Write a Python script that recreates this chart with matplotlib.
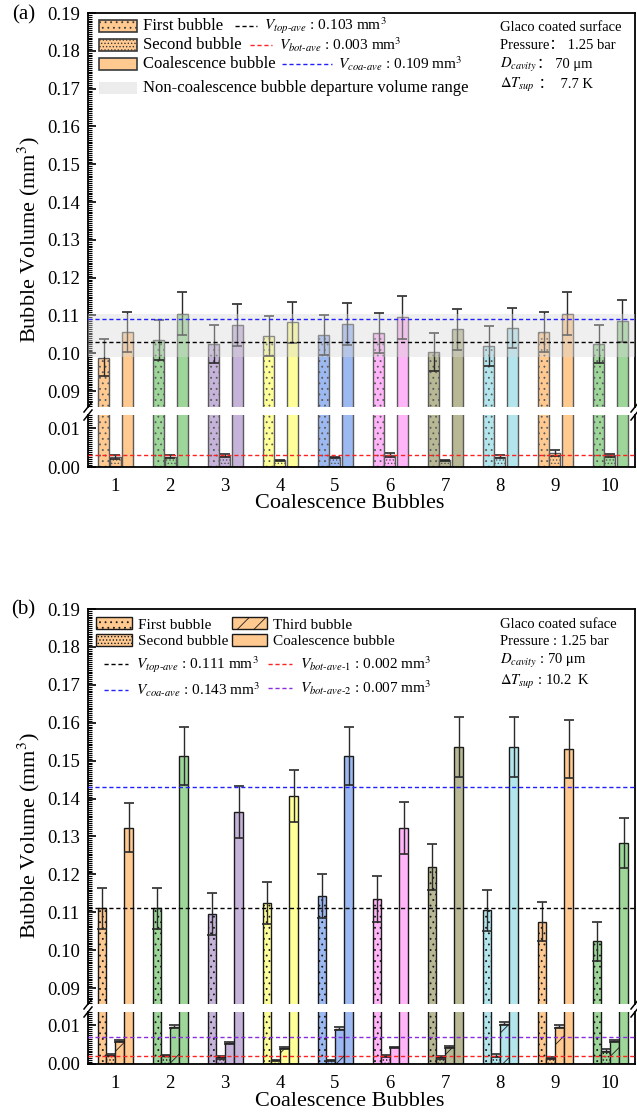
#!/usr/bin/env python3
"""Bubble volume bar charts (a) and (b) with a broken y axis."""

import numpy as np
import matplotlib
matplotlib.use('Agg')
import matplotlib.pyplot as plt
from matplotlib.patches import Patch, Rectangle
from matplotlib.lines import Line2D
from matplotlib.ticker import MultipleLocator, FormatStrFormatter

plt.rcParams['font.family'] = ['Liberation Serif', 'Noto Sans CJK SC']
plt.rcParams['mathtext.fontset'] = 'stix'
plt.rcParams['hatch.linewidth'] = 0.6

groups = np.arange(1, 11)
group_colors = ['#FFC990', '#9ED69A', '#C5B3DA', '#FFFF9A', '#9DB9F2',
                '#FFB5F7', '#B8B894', '#B3E5EC', '#FFC990', '#9ED69A']

# panel (a)
a_first = [0.0988, 0.1034, 0.1024, 0.1045, 0.1048, 0.1053, 0.1003, 0.1019, 0.1056, 0.1024]
a_first_err = [0.0049, 0.0053, 0.0050, 0.0053, 0.0052, 0.0053, 0.0050, 0.0052, 0.0052, 0.0050]
a_second = [0.0027, 0.0027, 0.0029, 0.0017, 0.0025, 0.0032, 0.0017, 0.0027, 0.0037, 0.0030]
a_second_err = [0.0005, 0.0004, 0.0004, 0.0002, 0.0002, 0.0005, 0.0002, 0.0003, 0.0008, 0.0004]
a_coa = [0.1056, 0.1105, 0.1075, 0.1082, 0.1077, 0.1095, 0.1063, 0.1066, 0.1105, 0.1085]
a_coa_err = [0.0052, 0.0056, 0.0055, 0.0055, 0.0056, 0.0056, 0.0053, 0.0053, 0.0056, 0.0055]
a_top_ave = 0.103
a_bot_ave = 0.003
a_coa_ave = 0.109
a_band = (0.099, 0.1105)

# panel (b)
b_first = [0.1110, 0.1110, 0.1095, 0.1125, 0.1143, 0.1135, 0.1220, 0.1105, 0.1075, 0.1023]
b_first_err = [0.0055, 0.0055, 0.0055, 0.0055, 0.0057, 0.0060, 0.0060, 0.0055, 0.0052, 0.0052]
b_second = [0.0024, 0.0022, 0.0017, 0.0010, 0.0010, 0.0021, 0.0017, 0.0022, 0.0016, 0.0035]
b_second_err = [0.0003, 0.0002, 0.0003, 0.0001, 0.0001, 0.0003, 0.0003, 0.0003, 0.0002, 0.0004]
b_third = [0.0059, 0.0097, 0.0054, 0.0042, 0.0092, 0.0043, 0.0044, 0.0105, 0.0097, 0.0059]
b_third_err = [0.0003, 0.0003, 0.0002, 0.0002, 0.0003, 0.0002, 0.0002, 0.0003, 0.0003, 0.0003]
b_coa = [0.1323, 0.1512, 0.1365, 0.1407, 0.1512, 0.1322, 0.1535, 0.1535, 0.1530, 0.1283]
b_coa_err = [0.0065, 0.0076, 0.0068, 0.0068, 0.0076, 0.0068, 0.0079, 0.0079, 0.0076, 0.0066]
b_top_ave = 0.111
b_coa_ave = 0.143
b_bot_ave_1 = 0.002
b_bot_ave_2 = 0.007

W, H = 637, 1118
LEFT, RIGHT = 88, 635


def fig_rect(top_px, bot_px):
    return [LEFT / W, 1 - bot_px / H, (RIGHT - LEFT) / W, (bot_px - top_px) / H]


def make_panel(fig, top_px, brk_top, brk_bot, bot_px):
    ax_t = fig.add_axes(fig_rect(top_px, brk_top))
    ax_b = fig.add_axes(fig_rect(brk_bot, bot_px))
    ax_t.set_ylim(0.0858, 0.19)
    ax_b.set_ylim(0.0, 0.0135)
    for ax in (ax_t, ax_b):
        ax.set_xlim(0.509, 10.455)
        ax.yaxis.set_minor_locator(MultipleLocator(0.0005))
        ax.yaxis.set_major_formatter(FormatStrFormatter('%.2f'))
        ax.tick_params(axis='y', which='major', direction='in', length=6,
                       width=1.2, labelsize=13.5, pad=6)
        ax.tick_params(axis='y', which='minor', direction='in', length=3, width=0.8)
        ax.tick_params(axis='x', length=0, labelsize=13.5, pad=8)
        for s in ax.spines.values():
            s.set_linewidth(1.3)
    ax_t.yaxis.set_major_locator(MultipleLocator(0.01))
    ax_b.set_yticks([0.0, 0.01])
    ax_t.spines['bottom'].set_visible(False)
    ax_b.spines['top'].set_visible(False)
    ax_t.set_xticks([])
    ax_b.set_xticks(groups)
    ax_b.set_xticklabels([str(g) for g in groups])

    # break marks
    for ax, h, y0 in ((ax_t, brk_top - top_px, 0), (ax_b, bot_px - brk_bot, 1)):
        dx = 4 / (RIGHT - LEFT)
        dy = 5 / h
        for x0 in (0, 1):
            ax.plot([x0 - dx, x0 + dx], [y0 - dy, y0 + dy], transform=ax.transAxes,
                    color='k', lw=1.1, clip_on=False, zorder=10)
    return ax_t, ax_b


def draw_bars(axes, offset, vals, errs, width, hatch, edge):
    for ax in axes:
        ax.bar(groups + offset, vals, width, color=group_colors, edgecolor=edge,
               hatch=hatch, linewidth=1.0, zorder=2)
        ax.errorbar(groups + offset, vals, yerr=errs, fmt='none', ecolor='#2a2a2a',
                    elinewidth=1.0, capsize=3.5, capthick=1.2, zorder=3)


def side_text(ax, lines, x, ys, fs):
    for (head, tail), y in zip(lines, ys):
        t = ax.text(x, y, head, transform=ax.transAxes, fontsize=fs, va='baseline', zorder=6)
        if tail:
            ax.annotate(tail, xy=(1, y), xycoords=(t, 'axes fraction'), fontsize=fs,
                        va='baseline', ha='left', zorder=6)


dash = (0, (3, 2))
fig = plt.figure(figsize=(W / 100, H / 100), dpi=100)

# ---------------- panel (a) ----------------
A_TOP, A_H = 13, 394
at, ab = make_panel(fig, A_TOP, 407, 415, 467)
draw_bars((at, ab), -0.205, a_first, a_first_err, 0.2, '...', '#5a5a5a')
draw_bars((at, ab), 0.0, a_second, a_second_err, 0.2, '.....', '#5a5a5a')
draw_bars((at, ab), 0.22, a_coa, a_coa_err, 0.2, None, '#5a5a5a')
at.axhspan(a_band[0], a_band[1], color='#d8d8d8', alpha=0.4, lw=0, zorder=4)
at.axhline(a_top_ave, color='k', lw=1, ls=dash, zorder=5)
at.axhline(a_coa_ave, color='#2020ff', lw=1, ls=dash, zorder=5)
ab.axhline(a_bot_ave, color='#ff2020', lw=1, ls=dash, zorder=5)


def ax_xy(px, py):
    return (px - LEFT) / (RIGHT - LEFT), 1 - (py - A_TOP) / A_H


# hand-placed legend of panel (a): patch rows, each followed by its line entry
patch_rows = [('First bubble', '...', '#FFC990', '#3a3a3a', 26),
              ('Second bubble', '.....', '#FFC990', '#3a3a3a', 45),
              ('Coalescence bubble', None, '#FFC990', '#3a3a3a', 64),
              ('Non-coalescence bubble departure volume range', None, '#ececec', 'none', 88)]
for label, hatch, fc, ec, py in patch_rows:
    x0, y0 = ax_xy(99, py + 6)
    x1, y1 = ax_xy(137, py - 6)
    at.add_patch(Rectangle((x0, y0), x1 - x0, y1 - y0, transform=at.transAxes,
                           fc=fc, ec=ec, hatch=hatch, lw=1.2, zorder=6, clip_on=False))
    tx, ty = ax_xy(143, py)
    at.text(tx, ty, label, transform=at.transAxes, fontsize=12, va='center', zorder=6)

line_rows = [(r'$V_{top\text{-}ave}$ : 0.103 mm$^3$', 'k', 235, 257, 264, 26),
             (r'$V_{bot\text{-}ave}$ : 0.003 mm$^3$', '#ff2020', 250, 272, 279, 45),
             (r'$V_{coa\text{-}ave}$ : 0.109 mm$^3$', '#2020ff', 282, 332, 338, 64)]
for label, color, lx0, lx1, tx_px, py in line_rows:
    xa, ya = ax_xy(lx0, py)
    xb, _ = ax_xy(lx1, py)
    at.add_line(Line2D([xa, xb], [ya, ya], transform=at.transAxes, color=color,
                       lw=1, ls=dash, zorder=6))
    tx, ty = ax_xy(tx_px, py)
    at.text(tx, ty, label, transform=at.transAxes, fontsize=11, va='center', zorder=6)

side_text(at, [('Glaco coated surface', ''),
               ('Pressure\uff1a 1.25 bar', ''),
               (r'$D_{cavity}$', '\uff1a 70 \u03bcm'),
               (r'$\Delta T_{sup}$', ' \uff1a  7.7 K')],
          0.753, [0.955, 0.908, 0.86, 0.81], 10.5)

# ---------------- panel (b) ----------------
bt, bb = make_panel(fig, 609, 1004, 1012, 1064)
draw_bars((bt, bb), -0.235, b_first, b_first_err, 0.155, '...', '#1a1a1a')
draw_bars((bt, bb), -0.078, b_second, b_second_err, 0.155, '.....', '#1a1a1a')
draw_bars((bt, bb), 0.08, b_third, b_third_err, 0.155, '/', '#1a1a1a')
draw_bars((bt, bb), 0.25, b_coa, b_coa_err, 0.155, None, '#1a1a1a')
bt.axhline(b_top_ave, color='k', lw=1, ls=dash, zorder=5)
bt.axhline(b_coa_ave, color='#2020ff', lw=1, ls=dash, zorder=5)
bb.axhline(b_bot_ave_1, color='#ff2020', lw=1, ls=dash, zorder=5)
bb.axhline(b_bot_ave_2, color='#8a2be2', lw=1, ls=dash, zorder=5)

patch_h = [Patch(fc='#FFC990', ec='#1a1a1a', hatch='...'),
           Patch(fc='#FFC990', ec='#1a1a1a', hatch='.....'),
           Patch(fc='#FFC990', ec='#1a1a1a', hatch='//'),
           Patch(fc='#FFC990', ec='#1a1a1a')]
patch_l = ['First bubble', 'Second bubble', 'Third bubble', 'Coalescence bubble']
leg2 = bt.legend(patch_h, patch_l, ncol=2, loc='upper left', bbox_to_anchor=(0.0, 1.0),
                 fontsize=11, frameon=False, handlelength=2.3, handleheight=0.8,
                 handletextpad=0.4, labelspacing=0.15, columnspacing=0.25,
                 borderaxespad=0.25, borderpad=0.3)
bt.add_artist(leg2)
line_h = [Line2D([], [], color='k', lw=1, ls=dash),
          Line2D([], [], color='#2020ff', lw=1, ls=dash),
          Line2D([], [], color='#ff2020', lw=1, ls=dash),
          Line2D([], [], color='#8a2be2', lw=1, ls=dash)]
line_l = [r'$V_{top\text{-}ave}$ : 0.111 mm$^3$',
          r'$V_{coa\text{-}ave}$ : 0.143 mm$^3$',
          r'$V_{bot\text{-}ave\text{-}1}$ : 0.002 mm$^3$',
          r'$V_{bot\text{-}ave\text{-}2}$ : 0.007 mm$^3$']
bt.legend(line_h, line_l, ncol=2, loc='upper left', bbox_to_anchor=(0.02, 0.897),
          fontsize=11, frameon=False, handlelength=1.6, handletextpad=0.5,
          labelspacing=0.38, columnspacing=0.5, borderaxespad=0.0, borderpad=0.3)
side_text(bt, [('Glaco coated suface', ''),
               ('Pressure : 1.25 bar', ''),
               (r'$D_{cavity}$ : 70 $\mathrm{\mu}$m', ''),
               (r'$\Delta T_{sup}$ : 10.2  K', '')],
          0.753, [0.952, 0.908, 0.86, 0.808], 10.5)

# labels
for lab, y in (('(a)', 1 - 15 / H), ('(b)', 1 - 610 / H)):
    fig.text(0.037, y, lab, fontsize=15, ha='center', va='center')
for y in (1 - 240 / H, 1 - 836 / H):
    fig.text(0.045, y, 'Bubble Volume (mm$^3$)', fontsize=16, rotation=90,
             ha='center', va='center')
for y in (1 - 503 / H, 1 - 1102 / H):
    fig.text(350 / W, y, 'Coalescence Bubbles', fontsize=16, ha='center', va='center')

fig.savefig('out.png', dpi=100)
